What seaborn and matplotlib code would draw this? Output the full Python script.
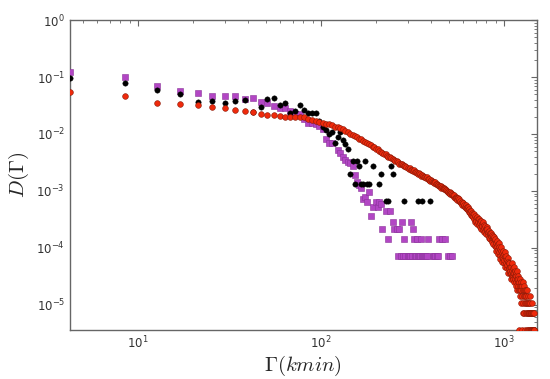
import numpy as np
import pandas as pd
import matplotlib
matplotlib.use("Agg")
import matplotlib.pyplot as plt
import seaborn as sns

# ---------------- data ----------------
bin_width = 4.25  # kmin per histogram bin

# red series: log10 D for bins 1..345
red_bins = list(range(1, 346))
red_logD = [
    -1.27, -1.33, -1.45, -1.47, -1.49, -1.53, -1.54, -1.58, -1.60, -1.61,
    -1.65, -1.67, -1.67, -1.68, -1.70, -1.70, -1.70, -1.71, -1.71, -1.73,
    -1.75, -1.77, -1.79, -1.80, -1.82, -1.83, -1.85, -1.87, -1.88, -1.90,
    -1.92, -1.95, -1.97, -2.00, -2.02, -2.03, -2.06, -2.08, -2.09, -2.12,
    -2.14, -2.16, -2.17, -2.20, -2.22, -2.23, -2.26, -2.27, -2.29, -2.31,
    -2.33, -2.35, -2.36, -2.38, -2.40, -2.41, -2.42, -2.44, -2.46, -2.47,
    -2.48, -2.50, -2.52, -2.53, -2.53, -2.55, -2.56, -2.56, -2.58, -2.59,
    -2.61, -2.60, -2.63, -2.63, -2.65, -2.64, -2.67, -2.66, -2.68, -2.70,
    -2.69, -2.71, -2.73, -2.72, -2.74, -2.76, -2.75, -2.77, -2.76, -2.79,
    -2.80, -2.79, -2.82, -2.81, -2.83, -2.85, -2.84, -2.86, -2.85, -2.88,
    -2.87, -2.90, -2.89, -2.91, -2.92, -2.91, -2.94, -2.93, -2.95, -2.94,
    -2.97, -2.96, -2.99, -2.98, -3.00, -3.02, -3.01, -3.03, -3.02, -3.05,
    -3.04, -3.07, -3.06, -3.08, -3.10, -3.08, -3.12, -3.10, -3.13, -3.12,
    -3.16, -3.13, -3.17, -3.15, -3.19, -3.18, -3.21, -3.19, -3.24, -3.21,
    -3.22, -3.26, -3.24, -3.28, -3.25, -3.30, -3.28, -3.32, -3.29, -3.34,
    -3.31, -3.37, -3.35, -3.39, -3.36, -3.42, -3.38, -3.44, -3.40, -3.45,
    -3.40, -3.50, -3.44, -3.55, -3.47, -3.52, -3.45, -3.58, -3.49, -3.54,
    -3.50, -3.60, -3.53, -3.64, -3.56, -3.52, -3.66, -3.58, -3.62, -3.55,
    -3.68, -3.59, -3.65, -3.72, -3.61, -3.70, -3.66, -3.76, -3.64, -3.71,
    -3.67, -3.78, -3.72, -3.82, -3.70, -3.76, -3.85, -3.74, -3.80, -3.73,
    -3.86, -3.77, -3.90, -3.82, -3.79, -3.93, -3.85, -3.81, -3.96, -3.87,
    -3.84, -3.99, -3.92, -4.05, -3.88, -3.97, -4.10, -3.94, -4.03, -3.91,
    -4.08, -3.98, -4.14, -4.02, -4.20, -4.06, -3.99, -4.16, -4.09, -4.24,
    -4.05, -4.18, -4.12, -4.27, -4.10, -4.22, -4.15, -4.33, -4.08, -4.20,
    -4.27, -4.14, -4.36, -4.21, -4.30, -4.18, -4.44, -4.24, -4.36, -4.27,
    -4.36, -4.27, -4.44, -4.33, -4.40, -4.54, -4.33, -4.44, -4.27, -4.49,
    -4.40, -4.49, -4.36, -4.54, -4.44, -4.33, -4.60, -4.44, -4.49, -4.40,
    -4.54, -4.44, -4.60, -4.49, -4.67, -4.40, -4.54, -4.74, -4.49, -4.60,
    -4.54, -4.67, -5.44, -4.74, -4.60, -4.84, -4.54, -4.67, -4.74, -4.60,
    -4.97, -4.67, -4.74, -5.44, -4.84, -4.67, -5.14, -4.74, -4.60, -4.97,
    -4.74, -5.14, -4.67, -4.84, -4.97, -4.74, -5.44, -4.84, -5.14, -4.74,
    -4.97, -4.84, -5.44, -5.14, -4.74, -4.97, -5.14, -5.44, -4.84, -4.97,
    -5.14, -5.44, -4.97, -5.14, -4.84, -5.44, -5.14, -4.97, -5.44, -5.14,
    -5.44, -5.14, -5.44, -4.97, -5.14, -5.44, -5.14, -5.44, -5.44, -5.14,
    -5.44, -5.44, -5.14, -5.44, -5.44,
]

# black series
black_bins = [1, 2, 3, 4, 5, 6, 7, 8, 9, 10, 11, 12, 13, 14, 15, 16, 17, 18, 19, 20,
              21, 22, 23, 24, 25, 26, 27, 28, 29, 30, 31, 32, 33, 34, 35, 36, 37, 38,
              39, 40, 41, 42, 43, 45, 49, 50, 53, 55, 57, 58, 67, 80, 84, 93]
black_logD = [-1.02, -1.10, -1.22, -1.29, -1.43, -1.42, -1.45, -1.42, -1.41, -1.61,
              -1.52, -1.39, -1.36, -1.49, -1.46, -1.63, -1.60, -1.49, -1.58, -1.63,
              -1.63, -1.64, -1.78, -1.87, -1.93, -2.00, -1.96, -2.15, -2.05, -1.97,
              -2.10, -2.18, -2.27, -2.70, -2.48, -2.87, -2.48, -2.57, -2.87, -2.87,
              -2.48, -2.87, -2.87, -2.57, -2.87, -2.70, -3.17, -3.17, -2.57, -2.70,
              -3.17, -3.17, -3.17, -3.17]

# purple series
purple_bins = [1, 2, 3, 4, 5, 6, 7, 8, 9, 10, 11, 12, 13, 14, 15, 16, 17, 18, 19, 20,
               21, 22, 23, 24, 25, 26, 27, 29, 30, 31, 32, 33, 34, 35, 36, 37, 38, 39,
               40, 41, 42, 43, 44, 45, 47, 48, 49, 50, 51, 53, 55, 56, 58, 59, 61, 62,
               63, 64, 65, 66, 67, 68, 70, 71, 72, 73, 74, 75, 76, 77, 78, 79, 80, 81,
               82, 83, 84, 85, 86, 87, 88, 89, 90, 96, 97, 99, 101, 102, 104, 108, 112,
               117, 120, 123]
purple_logD = [-0.91, -1.00, -1.16, -1.25, -1.28, -1.33, -1.33, -1.33, -1.39, -1.36,
               -1.43, -1.46, -1.50, -1.54, -1.55, -1.59, -1.65, -1.65, -1.74, -1.80,
               -1.80, -1.82, -1.86, -1.92, -2.09, -2.15, -2.16, -2.28, -2.34, -2.40,
               -2.46, -2.50, -2.51, -2.57, -2.72, -2.84, -2.90, -2.95, -3.15, -3.10,
               -3.19, -3.02, -3.44, -3.29, -3.19, -3.29, -3.19, -3.23, -3.67, -3.36,
               -3.84, -3.36, -3.54, -3.67, -3.67, -4.14, -3.67, -4.14, -3.54, -4.14,
               -3.84, -4.14, -4.14, -4.14, -4.14, -3.54, -4.14, -3.67, -3.84, -4.14,
               -4.14, -3.84, -4.14, -4.14, -4.14, -3.84, -4.14, -4.14, -4.14, -4.14,
               -4.14, -4.14, -3.84, -4.14, -4.14, -4.14, -4.14, -4.14, -3.84, -3.84,
               -3.84, -4.14, -4.14, -4.14]


def frame(bins, logd, name):
    b = np.asarray(bins, dtype=float)
    return pd.DataFrame({"gamma": b * bin_width,
                         "D": 10.0 ** np.asarray(logd),
                         "series": name})


df_red = frame(red_bins, red_logD, "red")
df_black = frame(black_bins, black_logD, "black")
df_purple = frame(purple_bins, purple_logD, "purple")

# ---------------- plot ----------------
sns.set_style("white")
plt.rcParams["font.family"] = ["DejaVu Sans"]
plt.rcParams["mathtext.fontset"] = "cm"

fig = plt.figure(figsize=(5.5, 3.79), dpi=100)
ax = fig.add_axes([0.127, 0.129, 0.849, 0.818])

sns.scatterplot(data=df_purple, x="gamma", y="D", ax=ax, marker="s", s=15,
                color="#b246c4", edgecolor="#8a3399", linewidth=0.4, zorder=3)
sns.scatterplot(data=df_black, x="gamma", y="D", ax=ax, marker="o", s=15,
                color="#000000", edgecolor="#000000", linewidth=0.3, zorder=4)
sns.scatterplot(data=df_red, x="gamma", y="D", ax=ax, marker="o", s=17,
                color="#ee2a0c", edgecolor="#8a1a08", linewidth=0.4, zorder=5)

ax.set_xscale("log")
ax.set_yscale("log")
ax.set_xlim(4.25, 1510)
ax.set_ylim(3.6e-6, 1.0)

ax.set_xlabel(r"$\Gamma(kmin)$", fontsize=15, labelpad=2)
ax.set_ylabel(r"$D(\Gamma)$", fontsize=15, labelpad=4)

for sp in ax.spines.values():
    sp.set_color("#666666")
    sp.set_linewidth(1.0)

ax.tick_params(which="both", direction="in", top=True, right=True,
               colors="#666666", labelcolor="#333333")
ax.tick_params(which="major", length=4.5, width=0.8, labelsize=8.5)
ax.tick_params(which="minor", length=2.2, width=0.6)
ax.xaxis.set_major_locator(matplotlib.ticker.LogLocator(base=10, numticks=10))
ax.yaxis.set_major_locator(matplotlib.ticker.LogLocator(base=10, numticks=10))
ax.xaxis.set_minor_locator(matplotlib.ticker.LogLocator(base=10, subs=np.arange(2, 10), numticks=20))
ax.yaxis.set_minor_locator(matplotlib.ticker.LogLocator(base=10, subs=np.arange(2, 10), numticks=20))
ax.xaxis.set_minor_formatter(matplotlib.ticker.NullFormatter())
ax.yaxis.set_minor_formatter(matplotlib.ticker.NullFormatter())

if ax.get_legend() is not None:
    ax.get_legend().remove()

fig.savefig("out.png", dpi=100)
